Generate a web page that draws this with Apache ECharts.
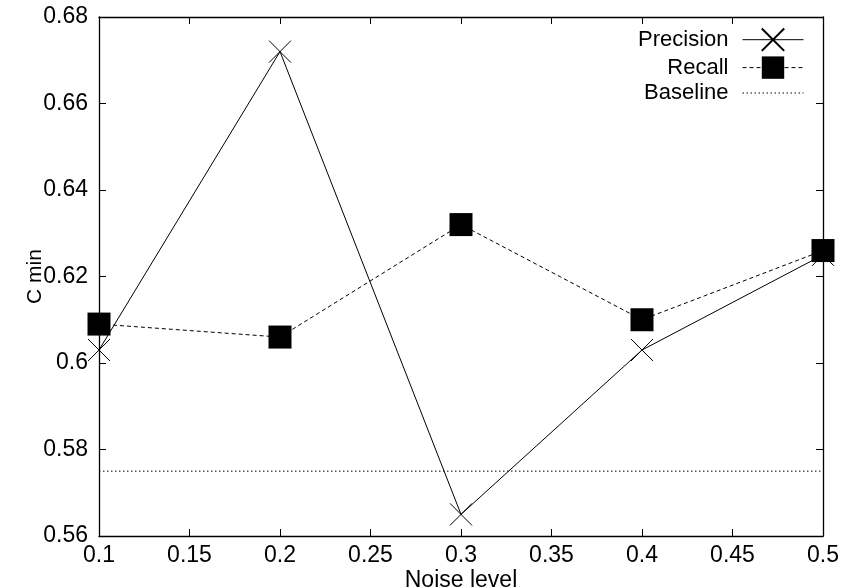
<!DOCTYPE html>
<html>
<head>
<meta charset="utf-8">
<script src="https://cdn.jsdelivr.net/npm/echarts@6/dist/echarts.min.js"></script>
<style>html,body{margin:0;padding:0;background:#fff}#c{width:843px;height:588px}</style>
</head>
<body>
<div id="c"></div>
<script>
var noiseLevels = [0.1, 0.2, 0.3, 0.4, 0.5];
var precision = [0.603, 0.672, 0.565, 0.603, 0.625];
var recall = [0.609, 0.606, 0.632, 0.610, 0.626];
var baseline = [0.575, 0.575, 0.575, 0.575, 0.575];
var seriesNames = ['Precision', 'Recall', 'Baseline'];
var xLabel = 'Noise level';
var yLabel = 'C min';

function pairs(xs, ys) { return xs.map(function (x, i) { return [x, ys[i]]; }); }
function fmt(v) { return String(parseFloat(v.toFixed(3))); }

var FONT = 'Liberation Sans, Arial, sans-serif';
var axisCommon = {
  axisLine: { show: true, onZero: false, lineStyle: { color: '#000', width: 1.3 } },
  axisTick: { show: true, inside: true, length: 7, lineStyle: { color: '#000', width: 1 } },
  splitLine: { show: false }
};

var chart = echarts.init(document.getElementById('c'), null, { renderer: 'canvas' });
chart.setOption({
  animation: false,
  backgroundColor: '#fff',
  grid: { left: 99, right: 20, top: 17, bottom: 52, containLabel: false, outerBoundsMode: 'none' },
  legend: {
    orient: 'vertical',
    align: 'right',
    right: 34,
    top: 21,
    itemWidth: 61,
    itemHeight: 28,
    itemGap: 3,
    textStyle: { fontFamily: FONT, fontSize: 22, color: '#000', padding: [0, 9, 0, 0] },
    data: [
      { name: seriesNames[0], lineStyle: { width: 1 } },
      { name: seriesNames[1], lineStyle: { width: 1 } },
      { name: seriesNames[2], lineStyle: { width: 1 }, itemStyle: { color: 'rgba(0,0,0,0)', borderWidth: 0, opacity: 0 } }
    ]
  },
  xAxis: [
    Object.assign({
      type: 'value', min: 0.1, max: 0.5, interval: 0.05, position: 'bottom',
      name: xLabel, nameLocation: 'middle', nameGap: 33, nameMoveOverlap: false,
      nameTextStyle: { fontFamily: FONT, fontSize: 23, color: '#000' },
      axisLabel: { formatter: fmt, fontFamily: FONT, fontSize: 23, color: '#000', margin: 8 }
    }, axisCommon),
    Object.assign({
      type: 'value', min: 0.1, max: 0.5, interval: 0.05, position: 'top',
      axisLabel: { show: false }
    }, axisCommon)
  ],
  yAxis: [
    Object.assign({
      type: 'value', min: 0.56, max: 0.68, interval: 0.02, position: 'left',
      name: yLabel, nameLocation: 'middle', nameGap: 53, nameRotate: 90, nameMoveOverlap: false,
      nameTextStyle: { fontFamily: FONT, fontSize: 21, color: '#000' },
      axisLabel: { formatter: fmt, fontFamily: FONT, fontSize: 23, color: '#000', margin: 11 }
    }, axisCommon),
    Object.assign({
      type: 'value', min: 0.56, max: 0.68, interval: 0.02, position: 'right',
      axisLabel: { show: false }
    }, axisCommon)
  ],
  series: [
    {
      name: seriesNames[0], type: 'line', data: pairs(noiseLevels, precision),
      symbol: 'path://M0,0L22,22M22,0L0,22', symbolSize: 22,
      lineStyle: { color: '#000', width: 1 },
      itemStyle: { color: 'none', borderColor: '#000', borderWidth: 1 },
      z: 2
    },
    {
      name: seriesNames[1], type: 'line', data: pairs(noiseLevels, recall),
      symbol: 'rect', symbolSize: 23,
      lineStyle: { color: '#000', width: 1, type: [4, 3] },
      itemStyle: { color: '#000' },
      z: 3
    },
    {
      name: seriesNames[2], type: 'line', data: pairs(noiseLevels, baseline),
      symbol: 'none',
      lineStyle: { color: '#000', width: 1, type: [1.5, 2.5] },
      itemStyle: { color: '#000' },
      z: 1
    }
  ]
});
</script>
</body>
</html>
